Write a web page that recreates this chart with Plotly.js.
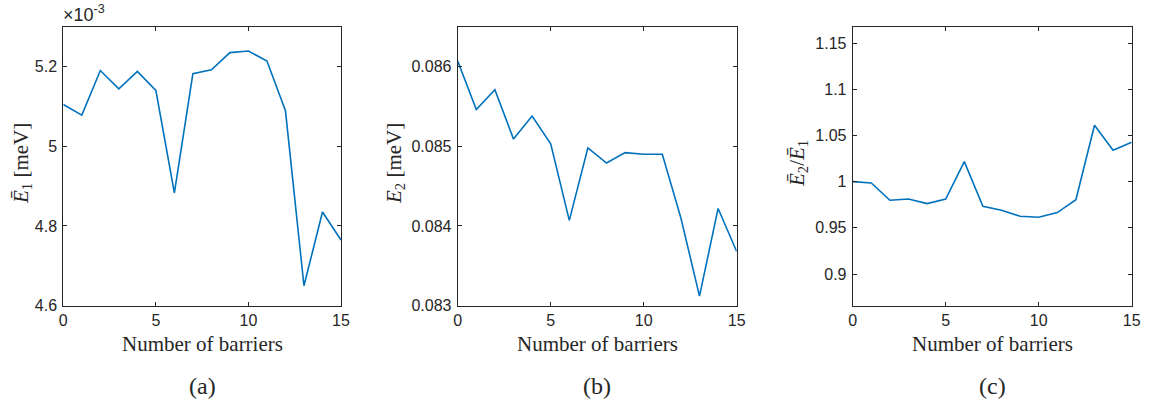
<!DOCTYPE html>
<html>
<head>
<meta charset="utf-8">
<script src="https://cdn.plot.ly/plotly-3.0.1.min.js"></script>
<style>html,body{margin:0;padding:0;background:#fff;}#chart{width:1151px;height:405px;}</style>
</head>
<body>
<div id="chart"></div>
<script>
// Number of barriers
const barriers = [0,1,2,3,4,5,6,7,8,9,10,11,12,13,14,15];
// Panel (a): E1 bar in units of 1e-3 meV
const E1 = [5.105,5.078,5.190,5.144,5.188,5.140,4.883,5.182,5.192,5.235,5.239,5.214,5.089,4.650,4.835,4.765];
// Panel (b): E2 in meV
const E2 = [0.08607,0.08546,0.08571,0.08509,0.08538,0.08503,0.08407,0.08498,0.08479,0.08492,0.08490,0.08490,0.08410,0.08312,0.08422,0.08368];
// Panel (c): ratio E2/E1
const ratio = [1.000,0.9986,0.9798,0.9812,0.9762,0.9812,1.0216,0.9733,0.969,0.9625,0.9614,0.9665,0.9805,1.061,1.0339,1.0426];

const panelLabels = ['(a)','(b)','(c)'];
const xTitle = 'Number of barriers';
const yTitles = ['<i>Ē</i><sub>1</sub> [meV]', '<i>E</i><sub>2</sub> [meV]', '<i>Ē</i><sub>2</sub>/<i>Ē</i><sub>1</sub>'];

const W = 1151, H = 405;
const lineColor = '#0072BD';
const axColor = '#262626';
const px = v => v / W;
const py = v => 1 - v / H;

const xDom = [[px(63.3), px(341)], [px(457.7), px(736.7)], [px(852.7), px(1131.7)]];
const yDom = [py(305.7), py(26.7)];

function trace(y, i) {
  const s = i === 0 ? '' : String(i + 1);
  return {x: barriers, y: y, type: 'scatter', mode: 'lines',
    line: {color: lineColor, width: 1.6}, xaxis: 'x' + s, yaxis: 'y' + s,
    hoverinfo: 'skip', showlegend: false};
}

function xa(i) {
  return {domain: xDom[i], range: [0, 15], dtick: 5, tick0: 0,
    showline: true, mirror: 'ticks', linecolor: axColor, linewidth: 1,
    ticks: 'inside', ticklen: 4, tickcolor: axColor, showgrid: false, zeroline: false,
    tickfont: {family: 'Liberation Sans, Arial, sans-serif', size: 16, color: axColor},
    anchor: i === 0 ? 'y' : 'y' + (i + 1)};
}
function ya(i, range, dtick) {
  return {domain: yDom, range: range, dtick: dtick,
    showline: true, mirror: 'ticks', linecolor: axColor, linewidth: 1,
    ticks: 'inside', ticklen: 4, tickcolor: axColor, showgrid: false, zeroline: false,
    tickfont: {family: 'Liberation Sans, Arial, sans-serif', size: 16, color: axColor},
    ticklabelstandoff: 2,
    anchor: i === 0 ? 'x' : 'x' + (i + 1)};
}

const serif = {family: 'Liberation Serif, Times New Roman, serif', size: 21, color: '#262626'};
const annotations = [];
const ytitleX = [22, 395, 798];
for (let i = 0; i < 3; i++) {
  const cx = (xDom[i][0] + xDom[i][1]) / 2;
  annotations.push({text: xTitle, xref: 'paper', yref: 'paper', x: cx, y: py(344),
    xanchor: 'center', yanchor: 'middle', showarrow: false, font: serif});
  annotations.push({text: panelLabels[i], xref: 'paper', yref: 'paper', x: cx, y: py(386),
    xanchor: 'center', yanchor: 'middle', showarrow: false,
    font: {family: serif.family, size: 24, color: '#262626'}});
  annotations.push({text: yTitles[i], xref: 'paper', yref: 'paper', x: px(ytitleX[i]), y: py(164),
    xanchor: 'center', yanchor: 'middle', textangle: -90, showarrow: false, font: serif});
}
annotations.push({text: '×10<sup>-3</sup>', xref: 'paper', yref: 'paper', x: xDom[0][0] - px(2), y: yDom[1],
  xanchor: 'left', yanchor: 'bottom', showarrow: false,
  font: {family: 'Liberation Sans, Arial, sans-serif', size: 18, color: axColor}});

const layout = {
  width: W, height: H, margin: {l: 0, r: 0, t: 0, b: 0},
  paper_bgcolor: '#fff', plot_bgcolor: '#fff', showlegend: false,
  xaxis: xa(0), xaxis2: xa(1), xaxis3: xa(2),
  yaxis: ya(0, [4.6, 5.3], 0.2),
  yaxis2: ya(1, [0.083, 0.0865], 0.001),
  yaxis3: ya(2, [0.8657, 1.1677], 0.05),
  annotations: annotations
};
layout.yaxis3.tick0 = 0.9;

Plotly.newPlot('chart', [trace(E1, 0), trace(E2, 1), trace(ratio, 2)], layout, {staticPlot: true});
</script>
</body>
</html>
